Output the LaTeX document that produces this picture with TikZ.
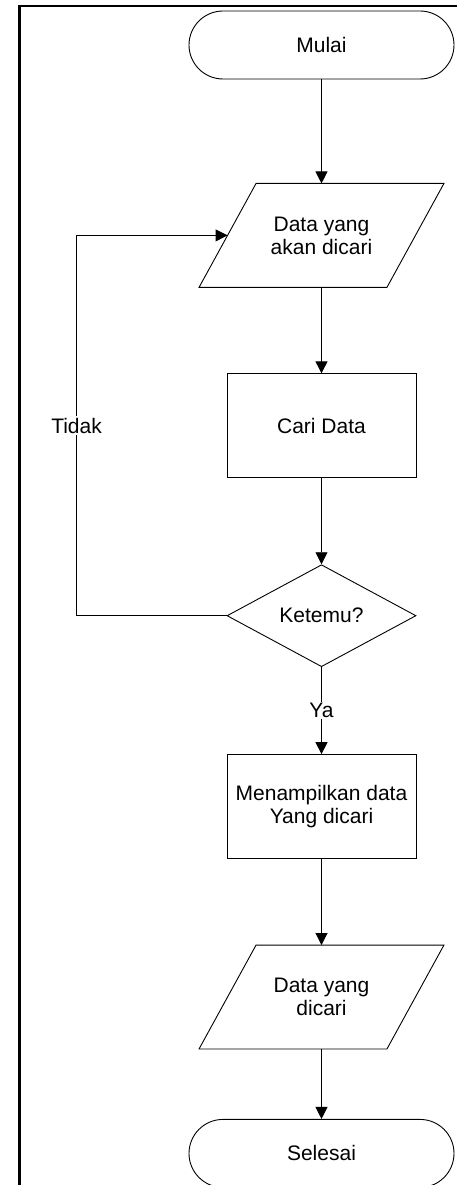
\documentclass[tikz,border=0pt]{standalone}
\usepackage{fontspec}
\setmainfont{Liberation Sans}
\usetikzlibrary{positioning,shapes.geometric,arrows.meta}

\begin{document}
\begin{tikzpicture}[x=1pt,y=1pt,font=\fontsize{21}{23}\selectfont,line width=0.9pt,
  terminal/.style={draw,rounded corners=34pt,minimum width=265pt,minimum height=68pt,inner sep=0pt},
  io/.style={minimum width=187pt,minimum height=103pt,inner sep=0pt,align=center},
  process/.style={draw,minimum width=189pt,minimum height=104pt,inner sep=0pt,align=center},
  decision/.style={draw,diamond,aspect=1.85,minimum width=189pt,minimum height=102pt,inner sep=0pt},
  flow/.style={-{Triangle[length=12pt,width=12pt]}},
  lbl/.style={fill=white,inner sep=1.5pt}]
  \useasboundingbox (0,0) rectangle (457,-1185);
  % frame
  \draw[line width=2.2pt] (19.5,-1185) -- (19.5,-6) -- (457,-6);
  \node[terminal] (mulai) at (321.5,-45) {Mulai};
  \node[io,below=104pt of mulai] (input) {Data yang\\akan dicari};
  \node[process,below=86pt of input] (cari) {Cari Data};
  \node[decision,below=86pt of cari] (ketemu) {Ketemu?};
  \node[process,below=87pt of ketemu] (tampil) {Menampilkan data\\Yang dicari};
  \node[io,below=86pt of tampil] (output) {Data yang\\dicari};
  \node[terminal,below=70pt of output] (selesai) {Selesai};
  % parallelograms for input/output
  \foreach \n in {input,output}
    \draw ([xshift=28.5pt]\n.north west) -- ([xshift=28.5pt]\n.north east)
      -- ([xshift=-28.5pt]\n.south east) -- ([xshift=-28.5pt]\n.south west) -- cycle;
  \coordinate[left=150pt of ketemu.west] (balik);
  \draw[flow] (mulai) -- (input);
  \draw[flow] (input) -- (cari);
  \draw[flow] (cari) -- (ketemu);
  \draw[flow] (ketemu.south) -- node[lbl] {Ya} (tampil.north);
  \draw[flow] (ketemu.west) -- (balik) |- node[lbl,pos=0.25] {Tidak} (input.west);
  \draw[flow] (tampil) -- (output);
  \draw[flow] (output) -- (selesai);
\end{tikzpicture}
\end{document}
